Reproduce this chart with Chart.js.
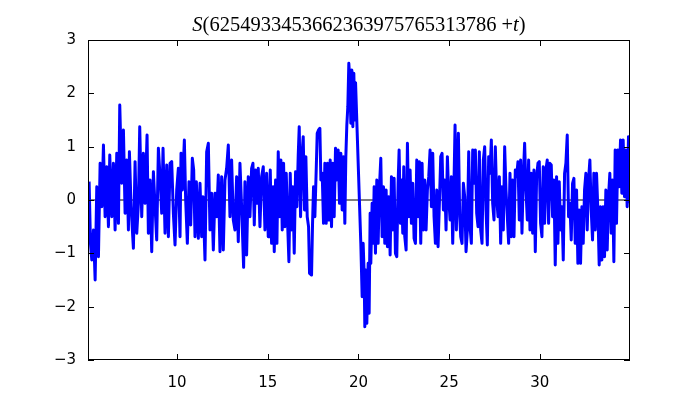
<!DOCTYPE html>
<html>
<head>
<meta charset="utf-8">
<script src="https://cdn.jsdelivr.net/npm/chart.js@4"></script>
<style>
  html, body { margin: 0; padding: 0; background: #fff; }
  #wrap { width: 700px; height: 400px; }
</style>
</head>
<body>
<div id="wrap"><canvas id="sChart" width="700" height="400"></canvas></div>
<script>
// values
var titleNumber = '6254933453662363975765313786';
var xTicks = [10, 15, 20, 25, 30];
var yTicks = [-3, -2, -1, 0, 1, 2, 3];
var xMin = 5.09, xMax = 34.97;

var tValues = [
  5.152, 5.226, 5.299, 5.391, 5.483, 5.574, 5.666, 5.758, 5.850, 5.942,
  6.033, 6.125, 6.217, 6.290, 6.400, 6.492, 6.584, 6.676, 6.768, 6.841,
  6.951, 7.043, 7.135, 7.226, 7.318, 7.373, 7.465, 7.593, 7.685, 7.777,
  7.869, 7.942, 8.052, 8.144, 8.236, 8.346, 8.419, 8.511, 8.603, 8.695,
  8.787, 8.878, 8.970, 9.062, 9.154, 9.227, 9.337, 9.429, 9.521, 9.613,
  9.704, 9.796, 9.888, 9.980, 10.071, 10.163,
  10.218, 10.292, 10.402, 10.475, 10.567, 10.659, 10.751, 10.842, 10.916, 10.989,
  11.063, 11.173, 11.265, 11.356, 11.430, 11.540, 11.632, 11.724, 11.815, 11.907,
  11.999, 12.091, 12.182, 12.274, 12.366, 12.458, 12.549, 12.641, 12.733, 12.825,
  12.917, 13.008, 13.100, 13.192, 13.284, 13.375, 13.467, 13.559, 13.669, 13.743,
  13.834, 13.926, 14.018, 14.110, 14.183, 14.257, 14.330, 14.403, 14.477, 14.569,
  14.660, 14.752, 14.844, 14.936, 15.027,
  15.064, 15.138, 15.211, 15.303, 15.358, 15.431, 15.505, 15.578, 15.652, 15.725,
  15.798, 15.872, 15.945, 16.019, 16.092, 16.166, 16.239, 16.312, 16.386, 16.459,
  16.533, 16.606, 16.680, 16.735, 16.808, 16.881, 16.955, 17.028, 17.101, 17.175,
  17.249, 17.304, 17.414, 17.469, 17.524, 17.597, 17.671, 17.726, 17.799, 17.873,
  17.928, 18.001, 18.074, 18.148, 18.221, 18.295, 18.368, 18.442, 18.515, 18.588,
  18.662, 18.735, 18.809, 18.882, 18.956, 19.029, 19.102, 19.176, 19.249, 19.304,
  19.359, 19.414, 19.469, 19.524, 19.580, 19.635, 19.690, 19.745, 19.800, 19.840,
  20.130, 20.204, 20.259, 20.314, 20.351, 20.406, 20.461, 20.534, 20.589, 20.644,
  20.681, 20.754, 20.810, 20.865, 20.938, 21.011, 21.085, 21.158, 21.232, 21.305,
  21.379, 21.452, 21.525, 21.599, 21.672, 21.746, 21.819, 21.892, 21.966, 22.039,
  22.113, 22.186, 22.241, 22.315, 22.370, 22.443, 22.498, 22.553, 22.627, 22.700,
  22.773, 22.847, 22.920, 22.994, 23.067, 23.141, 23.214, 23.287, 23.361, 23.434,
  23.508, 23.581, 23.655, 23.728, 23.801, 23.875, 23.948, 24.022, 24.095, 24.168,
  24.242, 24.315, 24.389, 24.462, 24.536, 24.609, 24.682, 24.756, 24.829, 24.903,
  24.976,
  25.050, 25.123, 25.197, 25.270, 25.325, 25.398, 25.453, 25.509, 25.582, 25.637,
  25.710, 25.784, 25.857, 25.931, 26.004, 26.078, 26.151, 26.224, 26.298, 26.371,
  26.445, 26.518, 26.592, 26.665, 26.738, 26.812, 26.885, 26.959, 27.032, 27.105,
  27.179, 27.252, 27.326, 27.399, 27.473, 27.546, 27.619, 27.693, 27.766, 27.840,
  27.913, 27.986, 28.060, 28.133, 28.207, 28.280, 28.354, 28.427, 28.500, 28.574,
  28.647, 28.721, 28.794, 28.867, 28.941, 29.014, 29.088, 29.161, 29.235, 29.308,
  29.381, 29.455, 29.528, 29.602, 29.675, 29.749, 29.822, 29.895,
  29.968, 30.041, 30.115, 30.188, 30.262, 30.335, 30.408, 30.482, 30.555, 30.629,
  30.702, 30.776, 30.849, 30.922, 30.996, 31.069, 31.143, 31.216, 31.290, 31.363,
  31.436, 31.510, 31.583, 31.657, 31.730, 31.803, 31.877, 31.950, 32.024, 32.097,
  32.171, 32.244, 32.317, 32.391, 32.464, 32.538, 32.611, 32.685, 32.758, 32.831,
  32.905, 32.978, 33.052, 33.125, 33.199, 33.272, 33.345, 33.419, 33.492, 33.566,
  33.639, 33.713, 33.786, 33.859, 33.933, 34.006, 34.080, 34.153, 34.226, 34.300,
  34.373, 34.447, 34.520, 34.594, 34.667, 34.740, 34.814, 34.887, 34.942
];

var sValues = [
  0.344, -0.813, -1.125, -0.563, -1.5, 0.25, -1.063, 0.688, -0.125, 1.031,
  -0.313, 0.625, -0.5, 0.844, -0.313, 0.688, -0.563, 0.875, -0.438, 1.781,
  0.313, 1.313, -0.25, 0.75, -0.563, 0.906, -0.125, -0.906, 0.719, -0.625,
  -0.063, 1.375, -0.313, 0.875, -0.063, 1.219, -0.625, 0.375, -0.969, 0.531,
  -0.125, -0.75, 0.969, 0.438, -0.25, 0.969, -0.625, 0.656, -0.688, 0.688,
  0.719, -0.25, -0.844, 0.188, 0.594, -0.688,
  0.875, 0.188, 1.125, 0, -0.813, 0.344, -0.469, 0.781, 0.563, -0.688,
  0.344, -0.719, 0.313, -0.688, 0.063, -1.125, 0.906, 1.063, -0.563, 0.125,
  -0.938, 0.125, -0.313, 0.469, -0.969, 0.438, -0.938, 0.375, 0.594, 1.031,
  -0.313, 0.75, -0.375, -0.563, 0.438, -0.781, 0.688, -0.125, -1.263, 0.344,
  -1.031, 0.438, -0.313, 0.594, 0.688, -0.469, 0.563, -0.063, 0.594, -0.5,
  0.438, 0.625, -0.563, 0.5, -0.688,
  -0.563, 0.563, -0.813, 0.25, -0.969, 0.375, -0.813, 0.906, -0.313, 0.75,
  -0.563, 0.688, -0.5, 0.5, -0.406, -1.156, 0.5, -0.563, 0.25, -1.0,
  0.531, -0.125, 0.844, 1.375, -0.313, 0.813, 1.188, -0.188, 0.813, -0.313,
  -0.5, -1.375, -1.406, -0.438, 0.25, -0.313, 0.563, 1.25, 1.313, 1.344,
  0.375, 0.5, -0.438, 0.688, -0.438, 0.688, -0.375, 0.75, -0.5, 0.688,
  -0.313, 0.969, 0.375, 0.938, -0.063, 0.875, -0.188, 0.813, -0.438, 0.813,
  1.406, 1.75, 2.563, 2.25, 1.438, 2.438, 1.375, 2.375, 1.5, 2.2,
  -0.813, -1.813, -0.813, -1.375, -2.375, -1.313, -2.313, -1.188, -2.125, -0.25,
  -1.188, -0.063, -0.813, 0.25, -1.0, 0.375, -0.813, 0.25, 0.781, -0.688,
  0.25, -0.813, 0.188, -0.875, 0.063, -1.031, 0.438, -0.563, 0.406, -1.0,
  -1.063, 0.313, 0.938, -0.438, 0.375, -0.625, 0.625, -0.688, -0.938, 1.063,
  -0.313, 0.563, -0.438, 0.313, -0.719, -0.813, 0.75, -0.313, 0.719, -0.813,
  0.688, -0.563, 0.375, -0.563, 0.188, 0.438, 0.938, -0.125, 0.875, -0.313,
  -0.813, 0.188, -0.875, -0.063, 0.813, 0.875, -0.188, 0.375, -0.563, 0.813,
  0.063,
  -0.375, 0.438, -0.813, 0.375, 1.406, -0.563, 0.438, 1.25, -0.313, -0.688,
  -0.813, 0.313, 0.063, -0.969, -0.563, 0.906, -0.5, -0.813, 0.938, 0.313,
  0.938, -0.25, -0.5, 0.906, -0.563, -0.813, 0.75, 1.0, -0.188, -0.844,
  0.813, 0.5, 1.125, -0.063, -0.375, 1.0, 0.063, -0.313, 0.438, -0.813,
  0.25, -0.563, 1.0, 0.188, -0.313, -0.813, 0.5, -0.688, 0.375, -0.688,
  0.563, 0.438, 0.719, -0.375, 0.75, -0.625, 0.438, 1.063, 0.188, -0.375,
  0.75, -0.563, 0.5, -0.625, 0.563, -0.969, 0.438, 0.688,
  0.719, -0.438, -0.688, 0.625, -0.438, 0.563, 0.75, -0.438, 0.688, 0.656,
  -0.313, 0.375, -1.219, 0.438, -0.813, 0.344, -0.563, -0.125, -1.125, 0.5,
  0.688, 1.219, -0.313, -0.063, -0.75, 0.313, 0.406, -0.813, 0.188, -1.188,
  -0.188, -1.188, -0.125, -0.813, 0.188, 0.5, -0.563, 0.375, 0.75, -0.188,
  -0.75, 0.5, -0.563, 0.5, -0.188, -1.219, -0.125, -1.125, -0.125, -1.063,
  0.188, -0.938, 0.063, 0.5, -0.625, 0.375, -1.156, 0.938, -0.438, 0.938,
  0.25, 1.125, 0.125, 1.125, 0.063, 0.938, -0.125, 1.188, -0.063
];

var points = tValues.map(function (t, i) { return { x: t, y: sValues[i] }; });

// frame, inward ticks and the math-style title
var framePlugin = {
    id: 'frame',
    afterDraw: function (chart) {
        var ctx = chart.ctx;
        var area = chart.chartArea;
        var xs = chart.scales.x, ys = chart.scales.y;
        var len = 6;
        ctx.save();
        ctx.strokeStyle = '#000';
        ctx.lineWidth = 1;
        ctx.strokeRect(area.left + 0.5, area.top + 0.5, area.right - area.left - 1, area.bottom - area.top - 1);
        ctx.beginPath();
        xTicks.forEach(function (v) {
            var px = Math.round(xs.getPixelForValue(v)) + 0.5;
            ctx.moveTo(px, area.bottom); ctx.lineTo(px, area.bottom - len);
            ctx.moveTo(px, area.top); ctx.lineTo(px, area.top + len);
        });
        yTicks.forEach(function (v) {
            var py = Math.round(ys.getPixelForValue(v)) + 0.5;
            ctx.moveTo(area.left, py); ctx.lineTo(area.left + len, py);
            ctx.moveTo(area.right, py); ctx.lineTo(area.right - len, py);
        });
        ctx.stroke();

        // title: S(number + t), S and t in italic
        var parts = [
            { text: 'S', font: 'italic 20.5px "Liberation Serif"' },
            { text: '(' + titleNumber + ' +', font: '20.5px "Liberation Serif"' },
            { text: 't', font: 'italic 20.5px "Liberation Serif"' },
            { text: ')', font: '20.5px "Liberation Serif"' }
        ];
        var total = 0;
        parts.forEach(function (p) { ctx.font = p.font; p.w = ctx.measureText(p.text).width; total += p.w; });
        var x = (area.left + area.right) / 2 - total / 2;
        ctx.fillStyle = '#000';
        ctx.textBaseline = 'alphabetic';
        parts.forEach(function (p) { ctx.font = p.font; ctx.fillText(p.text, x, 31); x += p.w; });
        ctx.restore();
    }
};

var ctx = document.getElementById('sChart').getContext('2d');
var sChart = new Chart(ctx, {
    type: 'line',
    data: {
        datasets: [{
            label: 'S',
            data: points,
            borderColor: '#0000ff',
            borderWidth: 3,
            borderJoinStyle: 'round',
            pointRadius: 0,
            tension: 0,
            fill: false,
            order: 1
        }, {
            label: 'zero',
            data: [{ x: xMin, y: 0 }, { x: xMax, y: 0 }],
            borderColor: '#000',
            borderWidth: 1,
            pointRadius: 0,
            fill: false,
            order: 2
        }]
    },
    options: {
        responsive: false,
        animation: false,
        layout: { padding: { top: 40, right: 70, left: 0, bottom: 0 } },
        plugins: {
            legend: { display: false },
            title: { display: false },
            tooltip: { enabled: false }
        },
        scales: {
            x: {
                type: 'linear',
                min: xMin,
                max: xMax,
                afterFit: function (scale) { scale.height = 40; },
                afterBuildTicks: function (scale) { scale.ticks = xTicks.map(function (v) { return { value: v }; }); },
                grid: { display: false },
                border: { display: false },
                ticks: {
                    color: '#000',
                    padding: 6,
                    maxRotation: 0,
                    font: { family: 'DejaVu Sans', size: 15 }
                }
            },
            y: {
                min: -3,
                max: 3,
                afterFit: function (scale) { scale.width = 88; },
                afterBuildTicks: function (scale) { scale.ticks = yTicks.map(function (v) { return { value: v }; }); },
                grid: { display: false },
                border: { display: false },
                ticks: {
                    color: '#000',
                    padding: 4,
                    font: { family: 'DejaVu Sans', size: 15 },
                    callback: function (v) { return v < 0 ? '\u2212' + Math.abs(v) : String(v); }
                }
            }
        }
    },
    plugins: [framePlugin]
});
</script>
</body>
</html>
